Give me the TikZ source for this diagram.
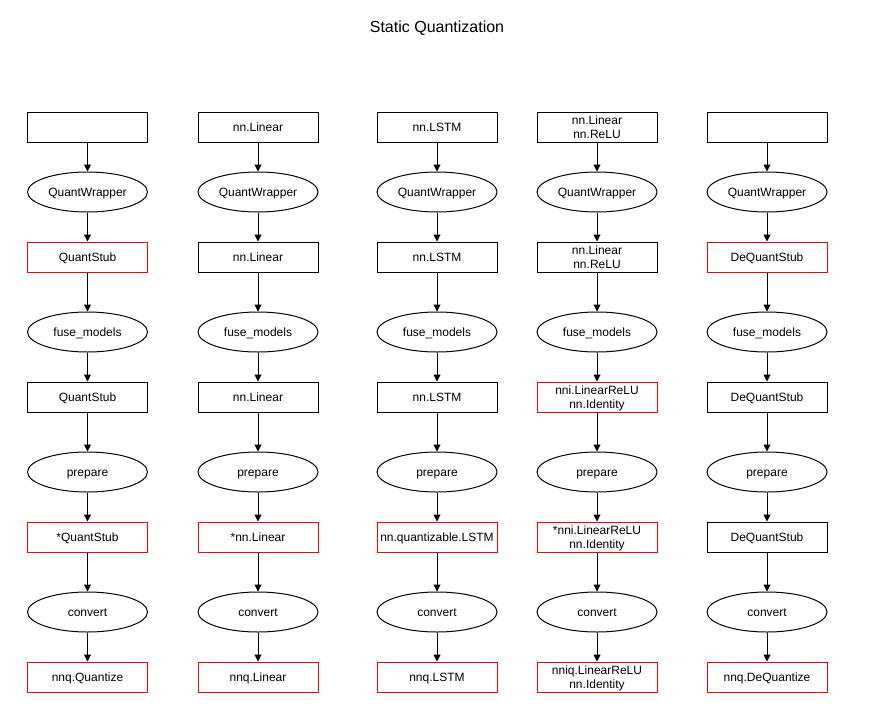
\documentclass[tikz,border=0pt]{standalone}
\usepackage{fontspec}
\setmainfont{Liberation Sans}
\usetikzlibrary{arrows.meta,shapes.geometric}
\begin{document}
\begin{tikzpicture}[x=1pt,y=-1pt,
  every node/.style={font=\fontsize{12}{14.4}\selectfont, align=center, inner sep=0pt, text height=11pt, text depth=2.6pt},
  twoline/.style={text height=25.4pt},
  bx/.style={draw=black, line width=1pt, minimum width=120pt, minimum height=30pt},
  rbx/.style={draw=red, line width=1pt, minimum width=120pt, minimum height=30pt},
  el/.style={draw=black, line width=1pt, ellipse, minimum width=120pt, minimum height=40pt},
  conn/.style={line width=1pt, -{Triangle[length=7pt,width=7pt]}}]
\useasboundingbox (0,0) rectangle (892,718);
\node[font=\fontsize{16}{19}\selectfont, text height=14.7pt, text depth=3.5pt] (title) at (437,27) {Static Quantization};
% column 1
\node[bx]  (a1) at (87.5,127) {};
\node[el]  (a2) at (87.5,192) {QuantWrapper};
\node[rbx] (a3) at (87.5,257) {QuantStub};
\node[el]  (a4) at (87.5,332) {fuse\_models};
\node[bx]  (a5) at (87.5,397) {QuantStub};
\node[el]  (a6) at (87.5,472) {prepare};
\node[rbx] (a7) at (87.5,537) {*QuantStub};
\node[el]  (a8) at (87.5,612) {convert};
\node[rbx] (a9) at (87.5,677) {nnq.Quantize};
% column 2
\node[bx]  (b1) at (258,127) {nn.Linear};
\node[el]  (b2) at (258,192) {QuantWrapper};
\node[bx]  (b3) at (258,257) {nn.Linear};
\node[el]  (b4) at (258,332) {fuse\_models};
\node[bx]  (b5) at (258,397) {nn.Linear};
\node[el]  (b6) at (258,472) {prepare};
\node[rbx] (b7) at (258,537) {*nn.Linear};
\node[el]  (b8) at (258,612) {convert};
\node[rbx] (b9) at (258,677) {nnq.Linear};
% column 3
\node[bx]  (c1) at (437,127) {nn.LSTM};
\node[el]  (c2) at (437,192) {QuantWrapper};
\node[bx]  (c3) at (437,257) {nn.LSTM};
\node[el]  (c4) at (437,332) {fuse\_models};
\node[bx]  (c5) at (437,397) {nn.LSTM};
\node[el]  (c6) at (437,472) {prepare};
\node[rbx] (c7) at (437,537) {nn.quantizable.LSTM};
\node[el]  (c8) at (437,612) {convert};
\node[rbx] (c9) at (437,677) {nnq.LSTM};
% column 4
\node[bx,twoline]  (d1) at (597,127) {nn.Linear\\nn.ReLU};
\node[el]  (d2) at (597,192) {QuantWrapper};
\node[bx,twoline]  (d3) at (597,257) {nn.Linear\\nn.ReLU};
\node[el]  (d4) at (597,332) {fuse\_models};
\node[rbx,twoline] (d5) at (597,397) {nni.LinearReLU\\nn.Identity};
\node[el]  (d6) at (597,472) {prepare};
\node[rbx,twoline] (d7) at (597,537) {*nni.LinearReLU\\nn.Identity};
\node[el]  (d8) at (597,612) {convert};
\node[rbx,twoline] (d9) at (597,677) {nniq.LinearReLU\\nn.Identity};
% column 5
\node[bx]  (e1) at (767,127) {};
\node[el]  (e2) at (767,192) {QuantWrapper};
\node[rbx] (e3) at (767,257) {DeQuantStub};
\node[el]  (e4) at (767,332) {fuse\_models};
\node[bx]  (e5) at (767,397) {DeQuantStub};
\node[el]  (e6) at (767,472) {prepare};
\node[bx]  (e7) at (767,537) {DeQuantStub};
\node[el]  (e8) at (767,612) {convert};
\node[rbx] (e9) at (767,677) {nnq.DeQuantize};
\foreach \c in {a,b,c,d,e}{
  \foreach \r [evaluate=\r as \n using int(\r+1)] in {1,...,8}{
    \draw[conn] (\c\r) -- (\c\n);
  }
}
\end{tikzpicture}
\end{document}
